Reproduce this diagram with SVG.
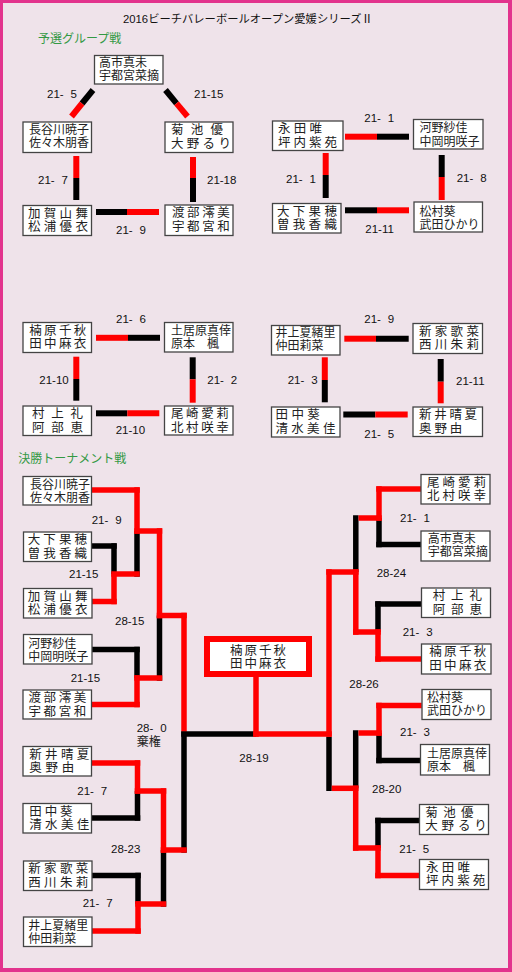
<svg xmlns="http://www.w3.org/2000/svg" width="512" height="972" viewBox="0 0 512 972">
<style>
.box{fill:#fff;stroke:#444;stroke-width:1.3}
.t{font-family:"Noto Sans CJK JP",sans-serif;font-size:12px;fill:#222}
.u{font-family:"Noto Sans CJK JP",sans-serif;font-size:12.5px;fill:#222}
.s{font-family:"Liberation Sans",Arial,sans-serif;font-size:11.5px;fill:#111}
.h{font-family:"Noto Sans CJK JP",sans-serif;font-size:12px;fill:#339944}
.ttl{font-family:"Liberation Sans","Noto Sans CJK JP",sans-serif;font-size:11.3px;fill:#111}
.r{stroke:#f00;fill:none}
.k{stroke:#000;fill:none}
#grp line{stroke-width:6}
#trn line{stroke-width:5.5}
</style>
<rect x="0" y="0" width="512" height="972" fill="#e2338d"/>
<rect x="3" y="3" width="505" height="965" fill="#efe3ea"/>
<text class="ttl" x="123" y="22.5">2016ビーチバレーボールオープン愛媛シリーズⅡ</text>
<text class="h" x="38" y="42.5">予選グループ戦</text>
<text class="h" x="18.3" y="462.5">決勝トーナメント戦</text>

<g id="connectors">
<g id="grp">
<line class="k" x1="93" y1="90" x2="82" y2="103.5"/><line class="r" x1="82" y1="103.5" x2="71.5" y2="116.5"/>
<line class="k" x1="165.5" y1="90" x2="176.5" y2="103.3"/><line class="r" x1="176.5" y1="103.3" x2="187.5" y2="116.5"/>
<line class="r" x1="76.3" y1="156" x2="76.3" y2="178"/><line class="k" x1="76.3" y1="178" x2="76.3" y2="200"/>
<line class="r" x1="193" y1="157" x2="193" y2="178"/><line class="k" x1="193" y1="178" x2="193" y2="202"/>
<line class="k" x1="96" y1="212" x2="127" y2="212"/><line class="r" x1="127" y1="212" x2="159" y2="212"/>
<line class="r" x1="345" y1="136.7" x2="377" y2="136.7"/><line class="k" x1="377" y1="136.7" x2="409" y2="136.7"/>
<line class="r" x1="325.7" y1="153" x2="325.7" y2="175"/><line class="k" x1="325.7" y1="175" x2="325.7" y2="198"/>
<line class="k" x1="441.7" y1="155" x2="441.7" y2="177"/><line class="r" x1="441.7" y1="177" x2="441.7" y2="200"/>
<line class="k" x1="345" y1="210.3" x2="377" y2="210.3"/><line class="r" x1="377" y1="210.3" x2="409" y2="210.3"/>
<line class="r" x1="96" y1="337.8" x2="128" y2="337.8"/><line class="k" x1="128" y1="337.8" x2="160" y2="337.8"/>
<line class="r" x1="76.3" y1="356.7" x2="76.3" y2="379"/><line class="k" x1="76.3" y1="379" x2="76.3" y2="400.7"/>
<line class="k" x1="192.7" y1="357.3" x2="192.7" y2="379.3"/><line class="r" x1="192.7" y1="379.3" x2="192.7" y2="402.7"/>
<line class="k" x1="96" y1="413.3" x2="127.3" y2="413.3"/><line class="r" x1="127.3" y1="413.3" x2="159.3" y2="413.3"/>
<line class="r" x1="344.3" y1="338.7" x2="376" y2="338.7"/><line class="k" x1="376" y1="338.7" x2="408.7" y2="338.7"/>
<line class="r" x1="324.8" y1="357.3" x2="324.8" y2="380"/><line class="k" x1="324.8" y1="380" x2="324.8" y2="402.3"/>
<line class="k" x1="440.7" y1="359" x2="440.7" y2="381.7"/><line class="r" x1="440.7" y1="381.7" x2="440.7" y2="403.3"/>
<line class="k" x1="343.3" y1="414.5" x2="375.3" y2="414.5"/><line class="r" x1="375.3" y1="414.5" x2="407.7" y2="414.5"/>
</g>
<g id="trn">
<line class="k" x1="92" y1="546" x2="116.75" y2="546"/><line class="k" x1="114" y1="543.25" x2="114" y2="574"/>
<line class="k" x1="137" y1="531" x2="137" y2="576.75"/>
<line class="k" x1="92" y1="649.5" x2="139.75" y2="649.5"/><line class="k" x1="137" y1="646.75" x2="137" y2="678"/>
<line class="k" x1="159.5" y1="615.5" x2="159.5" y2="680.75"/>
<line class="k" x1="92" y1="818" x2="140.25" y2="818"/><line class="k" x1="137.5" y1="791" x2="137.5" y2="820.75"/>
<line class="k" x1="92" y1="875.5" x2="140.75" y2="875.5"/><line class="k" x1="138" y1="872.75" x2="138" y2="904"/>
<line class="k" x1="163.5" y1="850" x2="163.5" y2="906.75"/>
<line class="k" x1="184" y1="731.25" x2="184" y2="852.75"/><line class="k" x1="181.25" y1="734" x2="256" y2="734"/>
<line class="k" x1="376.25" y1="544.5" x2="421" y2="544.5"/><line class="k" x1="379" y1="518" x2="379" y2="547.25"/>
<line class="k" x1="375.25" y1="604" x2="421.5" y2="604"/><line class="k" x1="378" y1="601.25" x2="378" y2="632"/>
<line class="k" x1="355.8" y1="515.25" x2="355.8" y2="572"/>
<line class="k" x1="376.25" y1="760.5" x2="420.5" y2="760.5"/><line class="k" x1="379" y1="733" x2="379" y2="763.25"/>
<line class="k" x1="375.25" y1="820.5" x2="419.5" y2="820.5"/><line class="k" x1="378" y1="817.75" x2="378" y2="848"/>
<line class="k" x1="355.7" y1="730.25" x2="355.7" y2="788.3"/>
<line class="k" x1="329" y1="736.75" x2="329" y2="791"/>

<line class="r" x1="92" y1="601.5" x2="116.75" y2="601.5"/><line class="r" x1="114" y1="574" x2="114" y2="604.25"/><line class="r" x1="111.25" y1="574" x2="139.75" y2="574"/>
<line class="r" x1="92" y1="490" x2="139.75" y2="490"/><line class="r" x1="137" y1="487.25" x2="137" y2="533.75"/><line class="r" x1="134.25" y1="531" x2="162.25" y2="531"/>
<line class="r" x1="92" y1="704.5" x2="139.75" y2="704.5"/><line class="r" x1="137" y1="675.25" x2="137" y2="707.25"/><line class="r" x1="134.25" y1="678" x2="162.25" y2="678"/>
<line class="r" x1="159.5" y1="528.25" x2="159.5" y2="618.25"/><line class="r" x1="156.75" y1="615.5" x2="186.75" y2="615.5"/>
<line class="r" x1="92" y1="763" x2="140.25" y2="763"/><line class="r" x1="137.5" y1="760.25" x2="137.5" y2="793.75"/><line class="r" x1="134.75" y1="791" x2="166.25" y2="791"/>
<line class="r" x1="92" y1="931" x2="140.75" y2="931"/><line class="r" x1="138" y1="901.25" x2="138" y2="933.75"/><line class="r" x1="135.25" y1="904" x2="166.25" y2="904"/>
<line class="r" x1="163.5" y1="788.25" x2="163.5" y2="852.75"/><line class="r" x1="160.75" y1="850" x2="186.75" y2="850"/>
<line class="r" x1="184" y1="612.75" x2="184" y2="731.25"/>
<line class="r" x1="256" y1="677" x2="256" y2="736.75"/><line class="r" x1="253.25" y1="734" x2="331.75" y2="734"/>
<line class="r" x1="329" y1="569.25" x2="329" y2="736.75"/>
<line class="r" x1="355.8" y1="569.25" x2="355.8" y2="634.75"/><line class="r" x1="326.25" y1="572" x2="358.55" y2="572"/>
<line class="r" x1="376.25" y1="489" x2="421" y2="489"/><line class="r" x1="379" y1="486.25" x2="379" y2="520.75"/><line class="r" x1="358.55" y1="518" x2="381.75" y2="518"/>
<line class="r" x1="375.25" y1="659" x2="421" y2="659"/><line class="r" x1="378" y1="629.25" x2="378" y2="661.75"/><line class="r" x1="353.05" y1="632" x2="380.75" y2="632"/>
<line class="r" x1="376.25" y1="705.5" x2="421.7" y2="705.5"/><line class="r" x1="379" y1="702.75" x2="379" y2="735.75"/><line class="r" x1="358.45" y1="733" x2="381.75" y2="733"/>
<line class="r" x1="375.25" y1="875.5" x2="419.5" y2="875.5"/><line class="r" x1="378" y1="845.25" x2="378" y2="878.25"/><line class="r" x1="352.95" y1="848" x2="380.75" y2="848"/>
<line class="r" x1="355.7" y1="785.55" x2="355.7" y2="850.75"/><line class="r" x1="331.75" y1="788.3" x2="358.45" y2="788.3"/>
</g>
</g>

<g id="scores">
<text class="s" x="47" y="98">21-<tspan x="70.5">5</tspan></text>
<text class="s" x="194" y="98">21-15</text>
<text class="s" x="38" y="184">21-<tspan x="61.5">7</tspan></text>
<text class="s" x="207" y="184">21-18</text>
<text class="s" x="116" y="234">21-<tspan x="139.5">9</tspan></text>
<text class="s" x="364.3" y="121.7">21-<tspan x="387.8">1</tspan></text>
<text class="s" x="286" y="183.3">21-<tspan x="309.5">1</tspan></text>
<text class="s" x="456.7" y="181.7">21-<tspan x="480.2">8</tspan></text>
<text class="s" x="365.3" y="233.3">21-11</text>
<text class="s" x="116" y="322.7">21-<tspan x="139.5">6</tspan></text>
<text class="s" x="39.3" y="384.3">21-10</text>
<text class="s" x="207.3" y="384.3">21-<tspan x="230.8">2</tspan></text>
<text class="s" x="115.7" y="434.3">21-10</text>
<text class="s" x="364.3" y="323.3">21-<tspan x="387.8">9</tspan></text>
<text class="s" x="287.7" y="384">21-<tspan x="311.2">3</tspan></text>
<text class="s" x="456" y="385">21-11</text>
<text class="s" x="364.3" y="437.7">21-<tspan x="387.8">5</tspan></text>
<text class="s" x="91.7" y="524">21-<tspan x="115.2">9</tspan></text>
<text class="s" x="69" y="578.3">21-15</text>
<text class="s" x="115" y="625">28-15</text>
<text class="s" x="70.7" y="681.7">21-15</text>
<text class="s" x="136.7" y="732.3">28-<tspan x="160.2">0</tspan></text>
<text class="t" x="136.7" y="746">棄権</text>
<text class="s" x="77.3" y="795">21-<tspan x="100.8">7</tspan></text>
<text class="s" x="111" y="853.3">28-23</text>
<text class="s" x="82.7" y="907.3">21-<tspan x="106.2">7</tspan></text>
<text class="s" x="239.3" y="761.7">28-19</text>
<text class="s" x="400" y="521.7">21-<tspan x="423.5">1</tspan></text>
<text class="s" x="376.7" y="576.7">28-24</text>
<text class="s" x="402.7" y="635.7">21-<tspan x="426.2">3</tspan></text>
<text class="s" x="349.3" y="687.7">28-26</text>
<text class="s" x="400" y="736">21-<tspan x="423.5">3</tspan></text>
<text class="s" x="372" y="793.3">28-20</text>
<text class="s" x="399.3" y="853.3">21-<tspan x="422.8">5</tspan></text>
</g>

<g id="g1-takaichi"><rect class="box" x="94.5" y="55.5" width="68.5" height="28.5"/><text class="t"><tspan x="99" y="67">高市真未</tspan><tspan x="99" y="80">宇都宮菜摘</tspan></text></g>
<g id="g1-hasegawa"><rect class="box" x="23" y="122" width="68.5" height="30.5"/><text class="t"><tspan x="29" y="134">長谷川暁子</tspan><tspan x="29" y="147">佐々木朋香</tspan></text></g>
<g id="g1-kikuchi"><rect class="box" x="165" y="122" width="68" height="30.5"/><text class="u"><tspan x="171" y="134.3" letter-spacing="7.2">菊池優</tspan><tspan x="171" y="147.5" letter-spacing="3.3">大野るり</tspan></text></g>
<g id="g1-kaga"><rect class="box" x="23" y="205.5" width="68.5" height="30"/><text class="u" letter-spacing="3.3"><tspan x="28" y="217.8">加賀山舞</tspan><tspan x="28" y="231">松浦優衣</tspan></text></g>
<g id="g1-watanabe"><rect class="box" x="165" y="205" width="68" height="30.5"/><text class="u" letter-spacing="2.6"><tspan x="172" y="217.3">渡部澪美</tspan><tspan x="172" y="230.5">宇都宮和</tspan></text></g>

<g id="g2-nagata"><rect class="box" x="272.5" y="121" width="70.5" height="29.5"/><text class="u"><tspan x="278" y="133.3" letter-spacing="3.2">永田唯</tspan><tspan x="278" y="146.5" letter-spacing="3">坪内紫苑</tspan></text></g>
<g id="g2-kono"><rect class="box" x="413.5" y="119.5" width="69.5" height="29.5"/><text class="t"><tspan x="419.5" y="132.3">河野紗佳</tspan><tspan x="419.5" y="145.5">中岡明咲子</tspan></text></g>
<g id="g2-oshita"><rect class="box" x="272.5" y="203.5" width="68.5" height="29.5"/><text class="u" letter-spacing="3.3"><tspan x="277" y="215.8">大下果穂</tspan><tspan x="277" y="229">曽我香織</tspan></text></g>
<g id="g2-matsumura"><rect class="box" x="414" y="202" width="68.5" height="30"/><text class="t"><tspan x="419.5" y="216">松村葵</tspan><tspan x="419.5" y="229">武田ひかり</tspan></text></g>

<g id="g3-kusuhara"><rect class="box" x="23" y="322.5" width="68.5" height="30"/><text class="u" letter-spacing="2.3"><tspan x="29.3" y="334.8">楠原千秋</tspan><tspan x="29.3" y="348">田中麻衣</tspan></text></g>
<g id="g3-doi"><rect class="box" x="164.5" y="322.5" width="68.5" height="29.5"/><text class="t"><tspan x="171" y="335">土居原真倖</tspan><tspan x="171" y="348">原本　楓</tspan></text></g>
<g id="g3-murakami"><rect class="box" x="23" y="406" width="68.5" height="29.5"/><text class="u" letter-spacing="6.7"><tspan x="32" y="418.3">村上礼</tspan><tspan x="32" y="431.5">阿部恵</tspan></text></g>
<g id="g3-ozaki"><rect class="box" x="164.5" y="406" width="68.5" height="29"/><text class="u" letter-spacing="2.6"><tspan x="171" y="418.3">尾崎愛莉</tspan><tspan x="171" y="431.5">北村咲幸</tspan></text></g>

<g id="g4-inoue"><rect class="box" x="271.5" y="325.5" width="68.5" height="29.5"/><text class="t"><tspan x="275.5" y="336.5">井上夏緒里</tspan><tspan x="275.5" y="349.5">仲田莉菜</tspan></text></g>
<g id="g4-shinke"><rect class="box" x="413" y="323.5" width="69.5" height="30"/><text class="u" letter-spacing="3.3"><tspan x="419" y="335.8">新家歌菜</tspan><tspan x="419" y="349">西川朱莉</tspan></text></g>
<g id="g4-tanaka"><rect class="box" x="271.5" y="407" width="68.5" height="30"/><text class="u"><tspan x="275.5" y="419.3" letter-spacing="3.4">田中葵</tspan><tspan x="275.5" y="432.5" letter-spacing="3.3">清水美佳</tspan></text></g>
<g id="g4-arai"><rect class="box" x="413" y="407" width="69.5" height="29.5"/><text class="u"><tspan x="419" y="419.3" letter-spacing="2.7">新井晴夏</tspan><tspan x="419" y="432.5" letter-spacing="2.9">奥野由</tspan></text></g>

<g id="t-hasegawa"><rect class="box" x="23" y="476.5" width="68.5" height="28.5"/><text class="t"><tspan x="30" y="489">長谷川暁子</tspan><tspan x="30" y="502">佐々木朋香</tspan></text></g>
<g id="t-oshita"><rect class="box" x="23.5" y="532" width="68" height="29.5"/><text class="u" letter-spacing="3.1"><tspan x="27.7" y="544.3">大下果穂</tspan><tspan x="27.7" y="557.5">曽我香織</tspan></text></g>
<g id="t-kaga"><rect class="box" x="23.5" y="588.5" width="68.5" height="29.5"/><text class="u" letter-spacing="3.3"><tspan x="27.7" y="600.8">加賀山舞</tspan><tspan x="27.7" y="614">松浦優衣</tspan></text></g>
<g id="t-kono"><rect class="box" x="23.5" y="634.5" width="68.5" height="29.5"/><text class="t"><tspan x="28.3" y="647.5">河野紗佳</tspan><tspan x="28.3" y="661">中岡明咲子</tspan></text></g>
<g id="t-watanabe"><rect class="box" x="23" y="690" width="68.5" height="29"/><text class="u" letter-spacing="2.6"><tspan x="28.5" y="702.3">渡部澪美</tspan><tspan x="28.5" y="715.5">宇都宮和</tspan></text></g>
<g id="t-arai"><rect class="box" x="23" y="746.5" width="68.5" height="29.5"/><text class="u"><tspan x="29.3" y="758.8" letter-spacing="3.3">新井晴夏</tspan><tspan x="29.3" y="772" letter-spacing="3.7">奥野由</tspan></text></g>
<g id="t-tanaka"><rect class="box" x="23" y="803.5" width="68.5" height="29.5"/><text class="u"><tspan x="29.3" y="815.8" letter-spacing="2.9">田中葵</tspan><tspan x="29.3" y="829" letter-spacing="3.3">清水美佳</tspan></text></g>
<g id="t-shinke"><rect class="box" x="23.5" y="861" width="68.5" height="29.5"/><text class="u" letter-spacing="3.3"><tspan x="28.3" y="873.3">新家歌菜</tspan><tspan x="28.3" y="886.5">西川朱莉</tspan></text></g>
<g id="t-inoue"><rect class="box" x="23.5" y="917" width="68.5" height="29.5"/><text class="t"><tspan x="28.3" y="929.8">井上夏緒里</tspan><tspan x="28.3" y="942.8">仲田莉菜</tspan></text></g>

<g id="t-ozaki"><rect class="box" x="421" y="474.5" width="69" height="29.5"/><text class="u" letter-spacing="3"><tspan x="427" y="486.8">尾崎愛莉</tspan><tspan x="427" y="500">北村咲幸</tspan></text></g>
<g id="t-takaichi"><rect class="box" x="421" y="531" width="69" height="30"/><text class="t"><tspan x="427.7" y="543">高市真未</tspan><tspan x="427.7" y="556">宇都宮菜摘</tspan></text></g>
<g id="t-murakami"><rect class="box" x="421.5" y="588" width="69" height="29.5"/><text class="u" letter-spacing="5.9"><tspan x="432.7" y="600.3">村上礼</tspan><tspan x="432.7" y="613.5">阿部恵</tspan></text></g>
<g id="t-kusuhara"><rect class="box" x="421.5" y="644" width="69.5" height="30"/><text class="u" letter-spacing="2.3"><tspan x="429.3" y="656.3">楠原千秋</tspan><tspan x="429.3" y="669.5">田中麻衣</tspan></text></g>
<g id="t-matsumura"><rect class="box" x="422" y="689.5" width="69" height="30"/><text class="t"><tspan x="427" y="701.5">松村葵</tspan><tspan x="427" y="715">武田ひかり</tspan></text></g>
<g id="t-doi"><rect class="box" x="420.5" y="744.5" width="69" height="30.5"/><text class="t"><tspan x="427" y="757.5">土居原真倖</tspan><tspan x="427" y="771">原本　楓</tspan></text></g>
<g id="t-kikuchi"><rect class="box" x="419.5" y="804.5" width="69" height="30"/><text class="u"><tspan x="425.3" y="816.8" letter-spacing="5.4">菊池優</tspan><tspan x="425.3" y="830" letter-spacing="3.8">大野るり</tspan></text></g>
<g id="t-nagata"><rect class="box" x="419.5" y="859.5" width="69" height="30"/><text class="u"><tspan x="426" y="871.8" letter-spacing="3.3">永田唯</tspan><tspan x="426" y="885" letter-spacing="3.1">坪内紫苑</tspan></text></g>

<g id="champion"><rect x="207" y="639" width="102" height="35" fill="#fff" stroke="#f00" stroke-width="6"/><text class="u" letter-spacing="2"><tspan x="230" y="654.5">楠原千秋</tspan><tspan x="230" y="667.5">田中麻衣</tspan></text></g>
</svg>
